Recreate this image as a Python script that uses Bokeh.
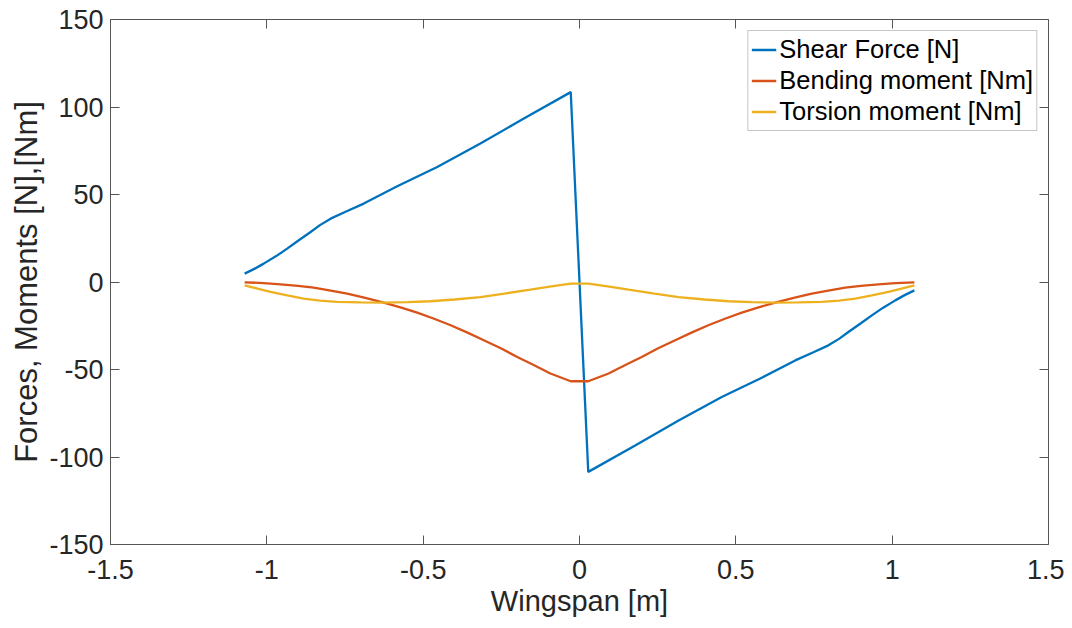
from bokeh.plotting import figure
from bokeh.models import Range1d, LinearAxis, FixedTicker, Legend, LegendItem
from bokeh.embed import file_html
from bokeh.resources import INLINE

# ---- data ----
shear_x = [-1.071, -1.04, -1.01, -0.97, -0.935, -0.90, -0.86, -0.83, -0.796, -0.75, -0.69,
           -0.583, -0.455, -0.317, -0.178, -0.028,
           0.028, 0.178, 0.317, 0.455, 0.583,
           0.69, 0.75, 0.796, 0.83, 0.86, 0.90, 0.935, 0.97, 1.01, 1.04, 1.071]
shear_y = [4.8, 7.5, 10.5, 14.8, 19.1, 23.6, 28.6, 32.5, 36.2, 40.0, 44.8,
           54.7, 65.7, 79.1, 93.4, 108.5,
           -108.5, -93.4, -79.1, -65.7, -54.7,
           -44.8, -40.0, -36.2, -32.5, -28.6, -23.6, -19.1, -14.8, -10.5, -7.5, -4.8]

bend_x = [-1.071, -1.01, -0.956, -0.90, -0.85, -0.80, -0.743, -0.685, -0.626, -0.57, -0.519,
          -0.465, -0.412, -0.36, -0.306, -0.25, -0.199, -0.145, -0.093, -0.028,
          0.028, 0.093, 0.145, 0.199, 0.25, 0.306, 0.36, 0.412, 0.465,
          0.519, 0.57, 0.626, 0.685, 0.743, 0.80, 0.85, 0.90, 0.956, 1.01, 1.071]
bend_y = [-0.2, -0.6, -1.3, -2.2, -3.2, -4.8, -6.7, -9.1, -11.8, -14.6, -17.5,
          -21.0, -24.7, -28.8, -33.3, -38.0, -42.9, -47.6, -52.3, -56.7,
          -56.7, -52.3, -47.6, -42.9, -38.0, -33.3, -28.8, -24.7, -21.0,
          -17.5, -14.6, -11.8, -9.1, -6.7, -4.8, -3.2, -2.2, -1.3, -0.6, -0.2]

tors_x = [-1.071, -1.03, -0.988, -0.935, -0.882, -0.83, -0.775, -0.70, -0.626, -0.55,
          -0.477, -0.40, -0.317, -0.24, -0.157, -0.09, -0.028,
          0.028, 0.09, 0.157, 0.24, 0.317, 0.40, 0.477,
          0.55, 0.626, 0.70, 0.775, 0.83, 0.882, 0.935, 0.988, 1.03, 1.071]
tors_y = [-1.9, -3.8, -5.7, -7.7, -9.5, -10.6, -11.4, -11.7, -11.8, -11.5,
          -11.0, -10.0, -8.6, -6.6, -4.4, -2.5, -0.9,
          -0.9, -2.5, -4.4, -6.6, -8.6, -10.0, -11.0,
          -11.5, -11.8, -11.7, -11.4, -10.6, -9.5, -7.7, -5.7, -3.8, -1.9]

x_ticks = [-1.5, -1.0, -0.5, 0.0, 0.5, 1.0, 1.5]
x_tick_labels = ["-1.5", "-1", "-0.5", "0", "0.5", "1", "1.5"]
y_ticks = [-150, -100, -50, 0, 50, 100, 150]
y_tick_labels = ["-150", "-100", "-50", "0", "50", "100", "150"]

series_names = ["Shear Force [N]", "Bending moment [Nm]", "Torsion moment [Nm]"]
colors = ["#0072BD", "#D95319", "#EDB120"]

FONT = "Liberation Sans"
TXT = "#262626"
AX = "#555555"

p = figure(width=1064, height=628, output_backend="svg", toolbar_location=None,
           x_range=Range1d(-1.5, 1.5), y_range=Range1d(-150, 150),
           min_border_left=110, min_border_right=16, min_border_top=19, min_border_bottom=84)
p.frame_width = 938
p.frame_height = 525
p.grid.visible = False
p.outline_line_color = None
p.background_fill_color = "white"
p.border_fill_color = "white"

r1 = p.line(shear_x, shear_y, line_color=colors[0], line_width=2.3)
r2 = p.line(bend_x, bend_y, line_color=colors[1], line_width=2.3)
r3 = p.line(tors_x, tors_y, line_color=colors[2], line_width=2.3)


def style(ax, ticks, labels, show):
    ax.ticker = FixedTicker(ticks=ticks)
    ax.major_label_overrides = {t: l for t, l in zip(ticks, labels)}
    ax.major_tick_in = 9
    ax.major_tick_out = 0
    ax.minor_tick_line_color = None
    ax.axis_line_color = AX
    ax.major_tick_line_color = AX
    ax.axis_line_width = 1
    ax.major_label_text_font = FONT
    ax.major_label_text_color = TXT
    ax.axis_label_text_font = FONT
    ax.axis_label_text_color = TXT
    ax.axis_label_text_font_style = "normal"
    if show:
        ax.major_label_text_font_size = "27px"
    else:
        ax.major_label_text_font_size = "1px"
        ax.major_label_text_color = None
        ax.major_label_standoff = 0


xa = p.xaxis[0]
style(xa, x_ticks, x_tick_labels, True)
xa.axis_label = "Wingspan [m]"
xa.axis_label_text_font_size = "29px"
xa.major_label_standoff = 15
xa.axis_label_standoff = 3

ya = p.yaxis[0]
style(ya, y_ticks, y_tick_labels, True)
ya.axis_label = "Forces, Moments [N],[Nm]"
ya.axis_label_text_font_size = "31px"
ya.major_label_standoff = 7
ya.axis_label_standoff = 2

top = LinearAxis()
style(top, x_ticks, x_tick_labels, False)
p.add_layout(top, "above")
right = LinearAxis()
style(right, y_ticks, y_tick_labels, False)
p.add_layout(right, "right")

legend = Legend(items=[LegendItem(label=series_names[0], renderers=[r1]),
                       LegendItem(label=series_names[1], renderers=[r2]),
                       LegendItem(label=series_names[2], renderers=[r3])],
                location="top_right")
legend.margin = 11
legend.padding = 3
legend.spacing = 0
legend.glyph_width = 25
legend.glyph_height = 31
legend.label_height = 31
legend.label_standoff = 3
legend.label_width = 251
legend.label_text_font = FONT
legend.label_text_font_size = "25.5px"
legend.label_text_color = "#000000"
legend.border_line_color = "#8c8c8c"
legend.border_line_width = 1
legend.background_fill_color = "white"
legend.background_fill_alpha = 1
p.add_layout(legend, "center")

open("out.html", "w").write(file_html(p, INLINE))
